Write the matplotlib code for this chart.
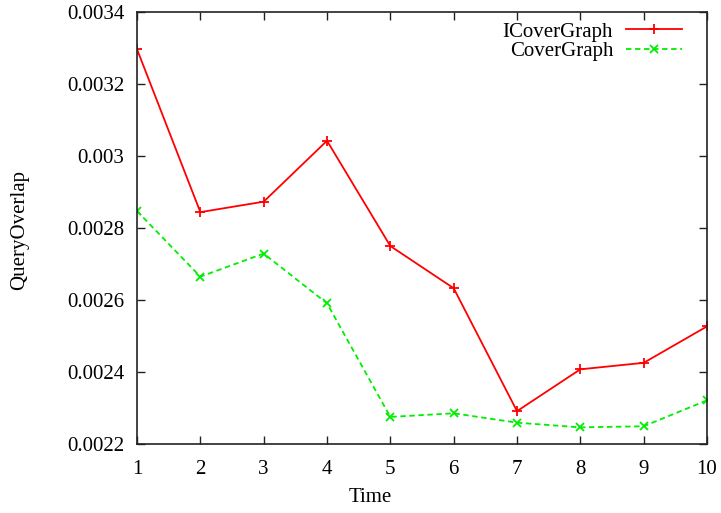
import matplotlib.pyplot as plt
import numpy as np

plt.rcParams['font.family'] = ['Liberation Serif', 'DejaVu Serif']

# query overlap per time step
time = [1, 2, 3, 4, 5, 6, 7, 8, 9, 10]
icover = [0.003296, 0.002844, 0.002873, 0.003042, 0.002750,
          0.002633, 0.002292, 0.002408, 0.002426, 0.002527]
cover = [0.002847, 0.002665, 0.002729, 0.002591, 0.002276,
         0.002286, 0.002260, 0.002247, 0.002250, 0.002322]
yticks = [0.0022, 0.0024, 0.0026, 0.0028, 0.003, 0.0032, 0.0034]
ytick_labels = ["0.0022", "0.0024", "0.0026", "0.0028", "0.003", "0.0032", "0.0034"]

fig = plt.figure(figsize=(7.21, 5.13), dpi=100)
ax = fig.add_axes([137 / 721, 1 - 444.3 / 513, 570 / 721, 432.6 / 513])

x_np = np.array(time)
ax.plot(x_np, np.array(icover), color='#ff0000', lw=1.3, marker='+', ms=7,
        mew=1.3, label='ICoverGraph')
ax.plot(x_np, np.array(cover), color='#00ee00', lw=1.3, ls=(0, (3, 2)), marker='x',
        ms=6, mew=1.3, label='CoverGraph')

ax.set_xlim(1, 10)
ax.set_ylim(0.0022, 0.0034)
ax.set_xticks(time)
ax.set_yticks(yticks)
ax.set_yticklabels(ytick_labels)
ax.tick_params(direction='in', length=6, width=1, top=True, right=True,
               labelsize=15, colors='#222222', labelcolor='black')
ax.tick_params(axis='x', pad=11)
ax.tick_params(axis='y', pad=9)
for sp in ax.spines.values():
    sp.set_linewidth(1.2)
    sp.set_color('#222222')

ax.set_xlabel('Time', fontsize=15)
ax.xaxis.set_label_coords((370 - 137) / 570, -0.1)
fig.text(20 / 721, 1 - 230 / 513, 'QueryOverlap', rotation=90, ha='center',
         va='center', fontsize=15)

leg = ax.legend(loc='upper right', bbox_to_anchor=(0.956, 0.976), markerfirst=False,
                numpoints=1, frameon=False, fontsize=15, handlelength=2.7,
                handletextpad=0.6, labelspacing=0.0, borderaxespad=0, borderpad=0)
# right-align the legend rows
for col in leg._legend_handle_box.get_children():
    col.align = 'right'

fig.savefig('out.png', dpi=100)
